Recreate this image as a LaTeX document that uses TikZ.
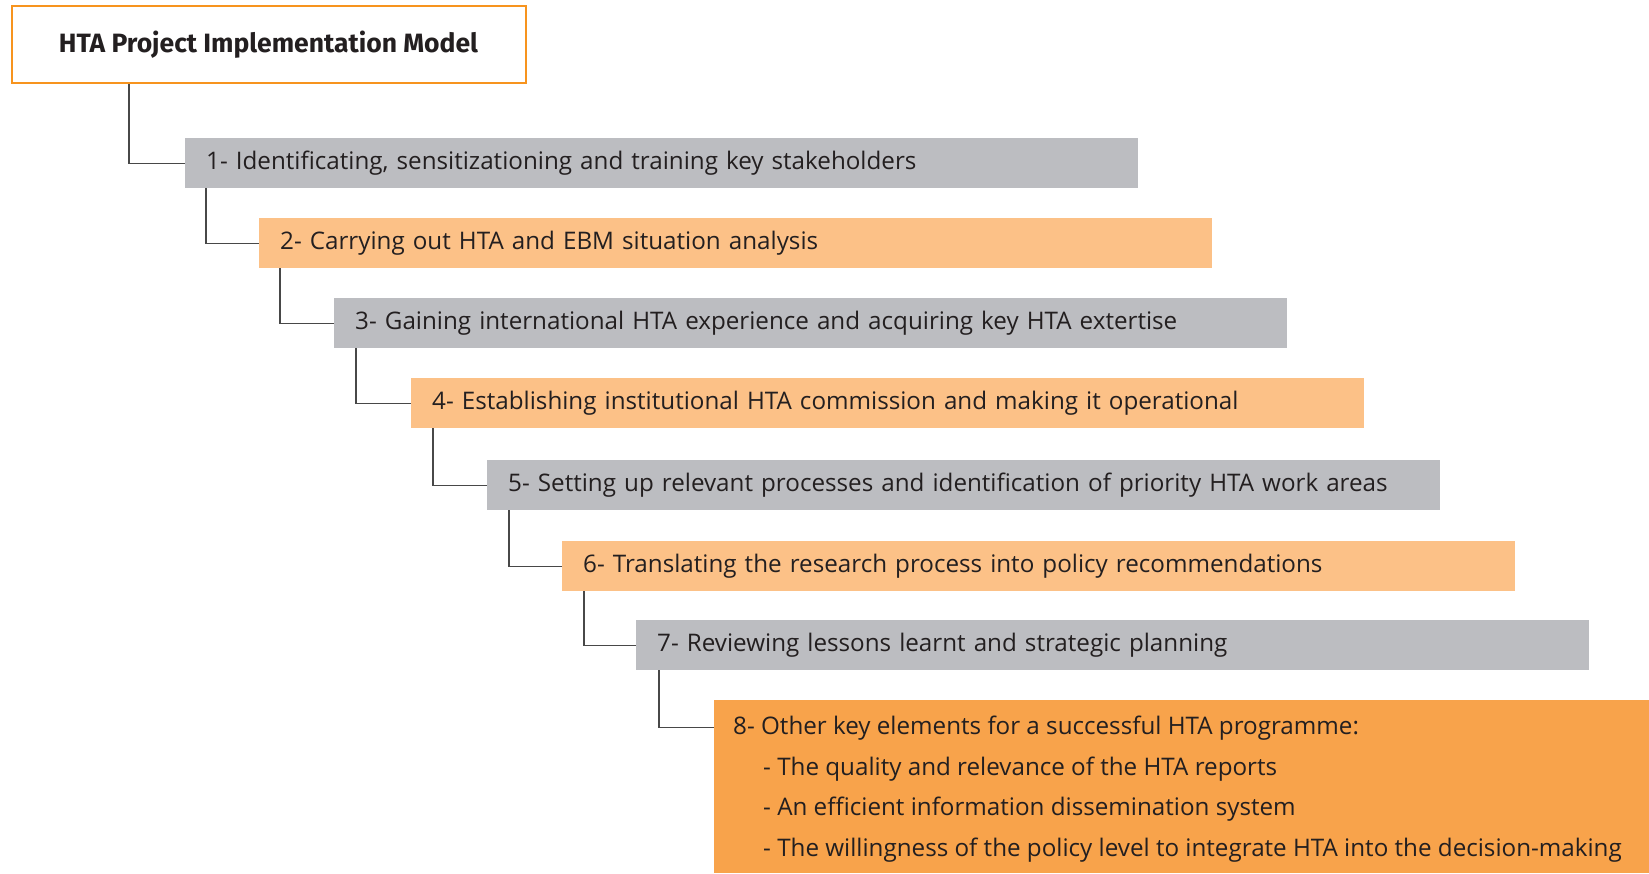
\documentclass[tikz,border=0pt]{standalone}
\usepackage{fontspec}
\setmainfont{Open Sans}
\newfontfamily\headfont{Fira Sans}
\usetikzlibrary{positioning}
\definecolor{stepgray}{RGB}{188,189,193}
\definecolor{steplight}{RGB}{252,193,135}
\definecolor{stepdark}{RGB}{248,163,75}
\definecolor{headframe}{RGB}{247,148,30}
\definecolor{linkgray}{RGB}{72,72,72}
\definecolor{inkdark}{RGB}{35,31,32}

\tikzset{
    stepbox/.style={anchor=north west, minimum width=953pt, minimum height=50pt,
        inner ysep=0pt, inner xsep=21pt, text width=911pt, align=left,
        text height=1.55em, text depth=0.3em,
        text=inkdark, font=\fontsize{24.2}{28}\selectfont},
    steptext/.style={anchor=base west, inner sep=0pt, text=inkdark,
        font=\fontsize{24.2}{28}\selectfont},
    link/.style={draw=linkgray, line width=1.2pt}
}

\begin{document}
\begin{tikzpicture}[x=1pt,y=-1pt]
        \useasboundingbox (0,0) rectangle (1649,873);

        % heading
        \node[draw=headframe, line width=2pt, anchor=north west, minimum width=514pt,
              minimum height=77pt, text=inkdark, font=\headfont\bfseries\fontsize{26.5}{30}\selectfont]
              (head) at (10.5,5.3) {HTA Project Implementation Model};

        % steps
        \node[stepbox, fill=stepgray] (s1) at (185,138) {1- Identificating, sensitizationing and training key stakeholders};
        \node[stepbox, fill=steplight] (s2) at (259,218) {2- Carrying out HTA and EBM situation analysis};
        \node[stepbox, fill=stepgray] (s3) at (334,298) {3- Gaining international HTA experience and acquiring key HTA extertise};
        \node[stepbox, fill=steplight] (s4) at (411,378) {4- Establishing institutional HTA commission and making it operational};
        \node[stepbox, fill=stepgray] (s5) at (487,460) {5- Setting up relevant processes and identification of priority HTA work areas};
        \node[stepbox, fill=steplight] (s6) at (562,541) {6- Translating the research process into policy recommendations};
        \node[stepbox, fill=stepgray] (s7) at (636,620) {7- Reviewing lessons learnt and strategic planning};

        \node[anchor=north west, fill=stepdark, minimum width=935pt, minimum height=173pt, inner sep=0pt]
              (s8) at (714,700) {};
        \node[steptext] (s8a) at (733,734) {8- Other key elements for a successful HTA programme:};
        \node[steptext] (s8b) at (763,775) {- The quality and relevance of the HTA reports};
        \node[steptext] (s8c) at (763,815) {- An efficient information dissemination system};
        \node[steptext] (s8d) at (763,856) {- The willingness of the policy level to integrate HTA into the decision-making};

        % connectors
        \draw[link] ([xshift=118.5pt]head.south west) |- (s1.west);
        \draw[link] ([xshift=21pt]s1.south west) |- (s2.west);
        \draw[link] ([xshift=21pt]s2.south west) |- (s3.west);
        \draw[link] ([xshift=22pt]s3.south west) |- (s4.west);
        \draw[link] ([xshift=22pt]s4.south west) |- (s5.west);
        \draw[link] ([xshift=22pt]s5.south west) |- (s6.west);
        \draw[link] ([xshift=22pt]s6.south west) |- (s7.west);
        \draw[link] ([xshift=23pt]s7.south west) |- (s8a.west -| s8.west);
\end{tikzpicture}
\end{document}
